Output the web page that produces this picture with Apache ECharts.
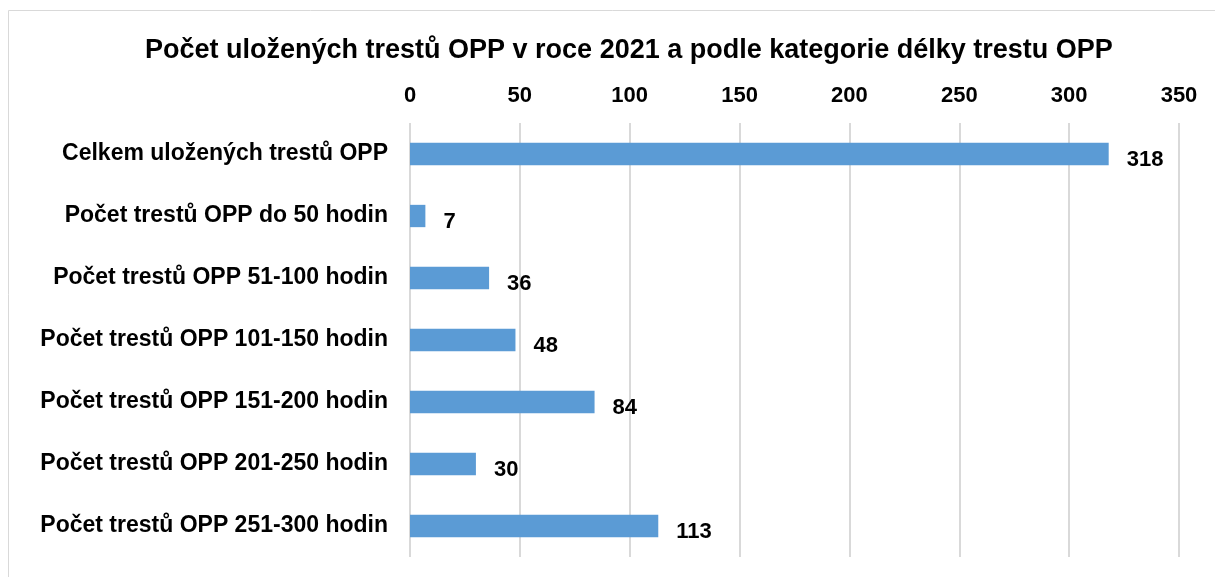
<!DOCTYPE html>
<html>
<head>
<meta charset="utf-8">
<script src="https://cdn.jsdelivr.net/npm/echarts@6/dist/echarts.min.js"></script>
<style>
  html, body { margin: 0; padding: 0; background: #fff; }
  #chart { width: 1215px; height: 577px; }
</style>
</head>
<body>
<div id="chart"></div>
<script>
// kategorie (shora dolů)
var categories = [
    'Celkem uložených trestů OPP',
    'Počet trestů OPP do 50 hodin',
    'Počet trestů OPP 51-100 hodin',
    'Počet trestů OPP 101-150 hodin',
    'Počet trestů OPP 151-200 hodin',
    'Počet trestů OPP 201-250 hodin',
    'Počet trestů OPP 251-300 hodin'
];
var values = [318, 7, 36, 48, 84, 30, 113];
var axisMin = 0, axisMax = 350, axisStep = 50;

var font = 'Liberation Sans, Arial, sans-serif';
var chart = echarts.init(document.getElementById('chart'));

chart.setOption({
    animation: false,
    title: {
        text: 'Počet uložených trestů OPP v roce 2021 a podle kategorie délky trestu OPP',
        left: 140,
        top: 32,
        textStyle: { fontFamily: font, fontWeight: 'bold', fontSize: 27, color: '#000' }
    },
    graphic: [{
        type: 'rect',
        shape: { x: 8.5, y: 10.5, width: 1220, height: 600 },
        style: { fill: 'none', stroke: '#d9d9d9', lineWidth: 1 },
        silent: true
    }],
    grid: { left: 410, right: 36, top: 123, bottom: 20, containLabel: false },
    xAxis: {
        type: 'value',
        position: 'top',
        min: axisMin,
        max: axisMax,
        interval: axisStep,
        axisLine: { show: false },
        axisTick: { show: false },
        axisLabel: { fontFamily: font, fontWeight: 'bold', fontSize: 22, color: '#000', margin: 16 },
        splitLine: { lineStyle: { color: '#d9d9d9', width: 2 } }
    },
    yAxis: {
        type: 'category',
        data: categories,
        inverse: true,
        axisLine: { show: false },
        axisTick: { show: false },
        axisLabel: { fontFamily: font, fontWeight: 'bold', fontSize: 23, color: '#000', margin: 22 }
    },
    series: [{
        type: 'bar',
        data: values,
        barWidth: '36%',
        itemStyle: { color: '#5b9bd5' },
        label: {
            show: true,
            position: 'right',
            distance: 18,
            fontFamily: font,
            fontWeight: 'bold',
            fontSize: 22,
            color: '#000',
            offset: [0, 6]
        }
    }]
});
</script>
</body>
</html>
